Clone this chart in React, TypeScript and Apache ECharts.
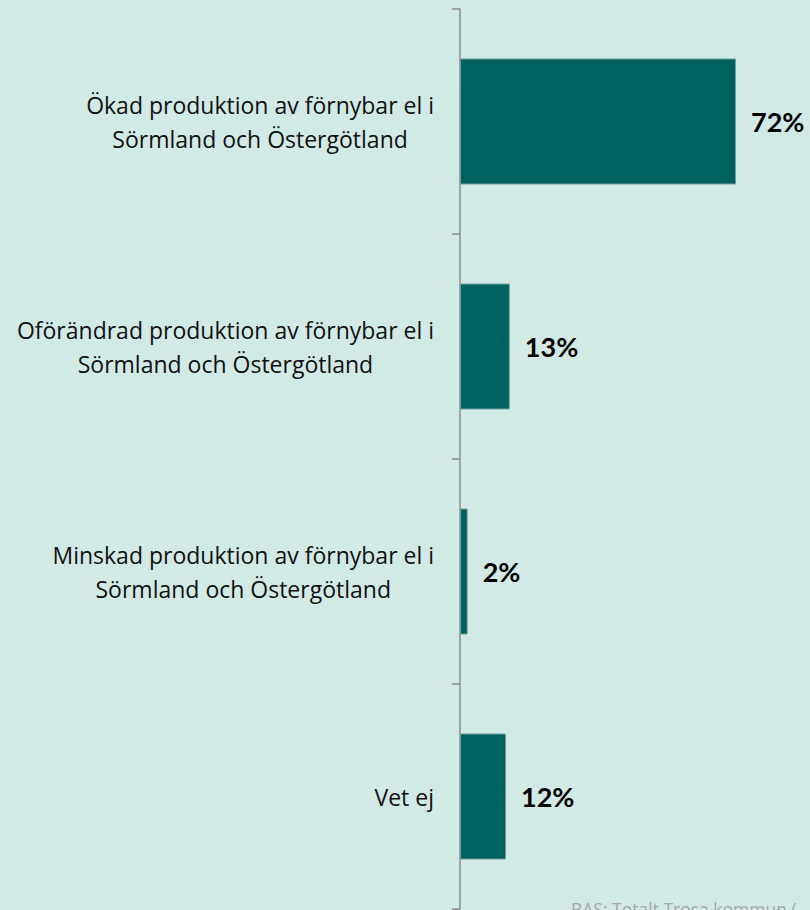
import React, { useEffect, useRef } from "react";
import * as echarts from "echarts";

const categories = [
  "Ökad produktion av förnybar el i\nSörmland och Östergötland",
  "Oförändrad produktion av förnybar el i\nSörmland och Östergötland",
  "Minskad produktion av förnybar el i\nSörmland och Östergötland",
  "Vet ej",
];
const values = [72, 13, 2, 12];
const axisMax = 91.3;
const footnote = "BAS: Totalt Trosa kommun (";

export default function App() {
  const ref = useRef<HTMLDivElement>(null);
  useEffect(() => {
    if (!ref.current) return;
    const chart = echarts.init(ref.current, null, { renderer: "svg" });
    chart.setOption({
      animation: false,
      backgroundColor: "#d2eae6",
      grid: { left: 460, top: 9, height: 900, right: 0, containLabel: false },
      xAxis: { type: "value", min: 0, max: axisMax, show: false },
      yAxis: {
        type: "category",
        inverse: true,
        data: categories,
        axisLine: { show: true, lineStyle: { color: "#8c8c8c", width: 1.5 } },
        axisTick: { show: true, length: 8, lineStyle: { color: "#8c8c8c", width: 1.5 } },
        axisLabel: {
          margin: 26,
          align: "right",
          formatter: (v: string) =>
            v
              .split("\n")
              .map((l) => `{c|${l}}`)
              .join("\n"),
          rich: {
            c: {
              align: "center",
              fontFamily: "Open Sans",
              fontSize: 23,
              lineHeight: 34,
              color: "#111",
            },
          },
        },
      },
      series: [
        {
          type: "bar",
          data: values,
          barCategoryGap: "44%",
          itemStyle: { color: "#00625e", borderColor: "#6f9f9c", borderWidth: 1 },
          label: {
            show: true,
            position: "right",
            distance: 15,
            formatter: "{c}%",
            fontFamily: "Lato",
            fontWeight: "bold",
            fontSize: 27,
            color: "#000",
          },
        },
      ],
      graphic: [
        {
          type: "text",
          left: 571,
          top: 900,
          style: {
            text: footnote,
            fontFamily: "Open Sans",
            fontSize: 17.5,
            fill: "#a6a6a6",
          },
        },
      ],
    });
    return () => chart.dispose();
  }, []);
  return (
    <div
      ref={ref}
      style={{ position: "fixed", left: 0, top: 0, width: 810, height: 910 }}
    />
  );
}
